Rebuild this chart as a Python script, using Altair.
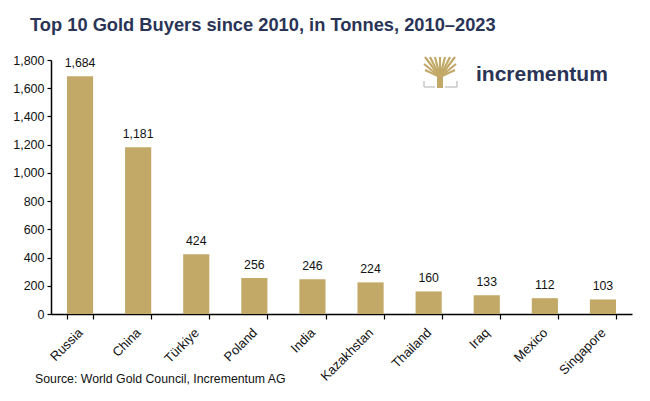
import altair as alt
import pandas as pd

countries = ["Russia", "China", "Türkiye", "Poland", "India", "Kazakhstan",
             "Thailand", "Iraq", "Mexico", "Singapore"]
tonnes = [1684, 1181, 424, 256, 246, 224, 160, 133, 112, 103]
y_ticks = [0, 200, 400, 600, 800, 1000, 1200, 1400, 1600, 1800]

title_text = "Top 10 Gold Buyers since 2010, in Tonnes, 2010\u20132023"
source_text = "Source: World Gold Council, Incrementum AG"
logo_text = "incrementum"

GOLD = "#c2a968"
NAVY = "#2a3456"
FONT = "Liberation Sans"

df = pd.DataFrame({"country": countries, "tonnes": tonnes})

W, H = 581, 254

base = alt.Chart(df).encode(
    x=alt.X("country:N", sort=countries,
            scale=alt.Scale(paddingInner=0.55, paddingOuter=0.275),
            axis=alt.Axis(title=None, labelAngle=-45, labelAlign="right",
                          labelBaseline="top", labelFontSize=13, labelFont=FONT,
                          labelColor="#111", labelPadding=7, labelOffset=-4,
                          tickBand="extent",
                          tickSize=5, tickColor="#000", domainColor="#000",
                          domainWidth=1.5, tickWidth=1.2)),
    y=alt.Y("tonnes:Q", scale=alt.Scale(domain=[0, 1800], nice=False),
            axis=alt.Axis(title=None, values=y_ticks, format=",.0f", grid=False,
                          labelFontSize=12.5, labelFont=FONT, labelColor="#111",
                          tickSize=4, tickColor="#000", domainColor="#000",
                          domainWidth=1.5, tickWidth=1.2, labelPadding=3)),
)

bars = base.mark_bar(color=GOLD)

labels = base.mark_text(dy=-13, fontSize=12.3, font=FONT, color="#111").encode(
    text=alt.Text("tonnes:Q", format=",.0f"),
)

one = pd.DataFrame({"a": [0]})

title = alt.Chart(pd.DataFrame({"t": [title_text]})).mark_text(
    align="left", baseline="alphabetic", fontSize=18.3, fontWeight="bold",
    font=FONT, color=NAVY
).encode(text="t:N", x=alt.value(-21), y=alt.value(-29))

source = alt.Chart(pd.DataFrame({"t": [source_text]})).mark_text(
    align="left", baseline="alphabetic", fontSize=12.3, font=FONT, color="#111"
).encode(text="t:N", x=alt.value(-16), y=alt.value(323))

logo = alt.Chart(pd.DataFrame({"t": [logo_text]})).mark_text(
    align="left", baseline="alphabetic", fontSize=21, fontWeight="bold",
    font=FONT, color=NAVY
).encode(text="t:N", x=alt.value(425), y=alt.value(21))

# tree icon (decoration)
ends = [(374, -3), (379, -3), (384, -3), (389, -3), (394, -3), (399, -3),
        (404, -3), (373, 4), (405, 4), (374, 10), (404, 10)]
branch_df = pd.DataFrame({"bx": [e[0] for e in ends], "by": [e[1] for e in ends],
                          "bx2": [389] * len(ends), "by2": [17] * len(ends)})
branches = alt.Chart(branch_df).mark_rule(color=GOLD, strokeWidth=2.2).encode(
    x=alt.X("bx:Q", scale=None, axis=None), x2="bx2:Q",
    y=alt.Y("by:Q", scale=None, axis=None), y2="by2:Q")
trunk = alt.Chart(one).mark_rect(color=GOLD).encode(
    x=alt.value(386), x2=alt.value(392), y=alt.value(12), y2=alt.value(28))
grey = "#c8c8c8"
frame = [
    alt.Chart(one).mark_rule(color=grey, strokeWidth=1.5).encode(
        x=alt.value(373), y=alt.value(21), y2=alt.value(27)),
    alt.Chart(one).mark_rule(color=grey, strokeWidth=1.5).encode(
        x=alt.value(406), y=alt.value(21), y2=alt.value(27)),
    alt.Chart(one).mark_rule(color=grey, strokeWidth=1.5).encode(
        x=alt.value(373), x2=alt.value(384), y=alt.value(27)),
    alt.Chart(one).mark_rule(color=grey, strokeWidth=1.5).encode(
        x=alt.value(394), x2=alt.value(406), y=alt.value(27)),
]

chart = alt.layer(
    bars, labels, title, source, logo, branches, trunk, *frame
).properties(
    width=W, height=H,
    autosize=alt.AutoSizeParams(type="none"),
    padding={"left": 51, "top": 60, "right": 18, "bottom": 87},
    background="white",
).configure_view(stroke=None)

chart.save("out.html", embed_options={"renderer": "svg", "actions": False})
